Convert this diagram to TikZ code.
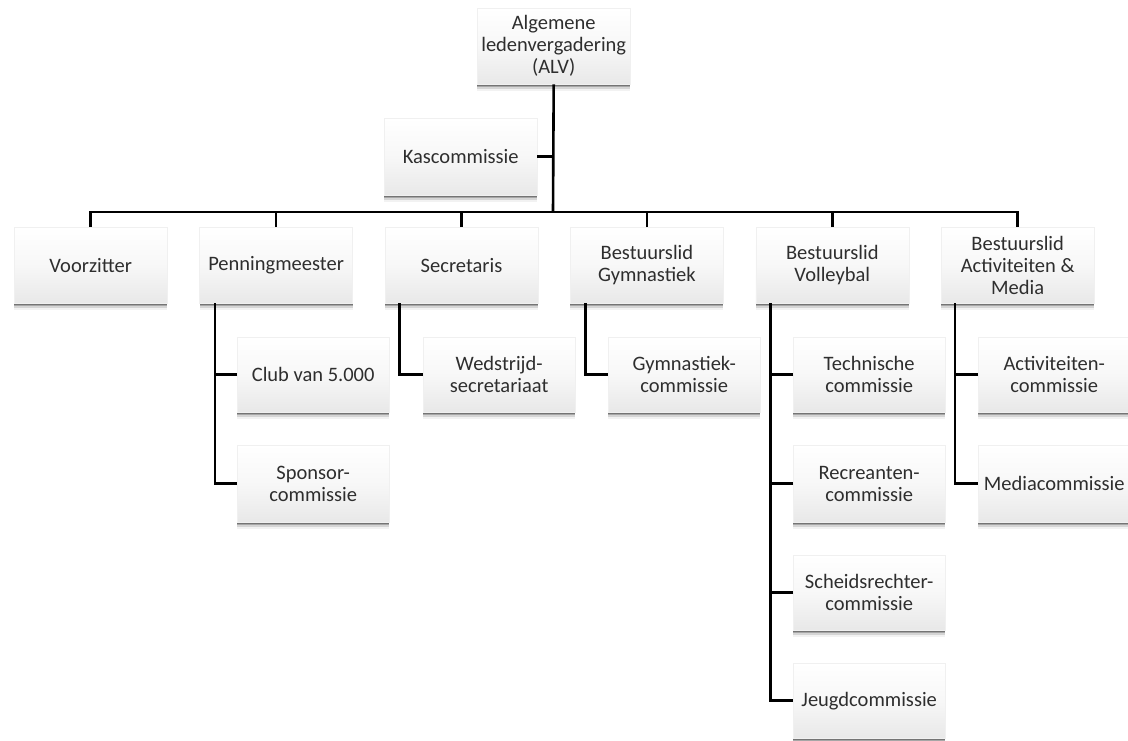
\documentclass[tikz,border=0pt]{standalone}
\usepackage{fontspec}
\setmainfont{Carlito}
\usetikzlibrary{shadows}
\tikzset{
  orgbox/.style={rectangle, anchor=north west, minimum width=153pt, minimum height=76pt,
    inner sep=0pt, align=center,
    top color=white, bottom color=black!9, middle color=white!97!black, draw=black!6, line width=0.4pt,
    font=\fontsize{20.5}{22}\selectfont, text=black!82,
    drop shadow={shadow xshift=0pt, shadow yshift=-1.5pt, opacity=0.3, fill=black},
    drop shadow={shadow xshift=0pt, shadow yshift=-3pt, opacity=0.22, fill=black},
    drop shadow={shadow xshift=0pt, shadow yshift=-5pt, opacity=0.12, fill=black},
    drop shadow={shadow xshift=0pt, shadow yshift=-7pt, opacity=0.05, fill=black}},
  subbox/.style={orgbox, minimum width=152pt, minimum height=75pt},
  conn/.style={draw=black, line width=2.6pt, line join=miter}
}
\begin{document}
\begin{tikzpicture}[x=1pt, y=-1pt]
\useasboundingbox (0,0) rectangle (1128,740);
% top
\node[orgbox] (alv) at (477,8) {Algemene\\ledenvergadering\\(ALV)};
\node[orgbox, minimum height=77pt] (kas) at (384,118) {Kascommissie};
% level 1
\node[orgbox] (b1) at (14,227) {Voorzitter};
\node[orgbox] (b2) at (199.4,227) {Penningmeester};
\node[orgbox] (b3) at (384.8,227) {Secretaris};
\node[orgbox] (b4) at (570.2,227) {Bestuurslid\\Gymnastiek};
\node[orgbox] (b5) at (755.6,227) {Bestuurslid\\Volleybal};
\node[orgbox] (b6) at (941,227) {Bestuurslid\\Activiteiten \&\\Media};
% children
\node[subbox] (c21) at (237,337) {Club van 5.000};
\node[subbox, minimum height=77pt] (c22) at (237,445) {Sponsor-\\commissie};
\node[subbox] (c31) at (423,337) {Wedstrijd-\\secretariaat};
\node[subbox] (c41) at (608,337) {Gymnastiek-\\commissie};
\node[subbox] (c51) at (793,337) {Technische\\commissie};
\node[subbox, minimum height=77pt] (c52) at (793,445) {Recreanten-\\commissie};
\node[subbox] (c53) at (793,555) {Scheidsrechter-\\commissie};
\node[subbox] (c54) at (793,663) {Jeugdcommissie};
\node[subbox] (c61) at (978,337) {Activiteiten-\\commissie};
\node[subbox, minimum height=77pt] (c62) at (978,445) {Mediacommissie};
% connectors
\coordinate (bus) at (553,212);
\draw[conn] (alv.south) -- (bus);
\draw[conn] (kas.east) -- (kas.east -| bus);
\draw[conn] (b1.north) |- (bus) -| (b6.north);
\draw[conn] (b2.north) -- (b2.north |- bus);
\draw[conn] (b3.north) -- (b3.north |- bus);
\draw[conn] (b4.north) -- (b4.north |- bus);
\draw[conn] (b5.north) -- (b5.north |- bus);
\coordinate (p2) at ([xshift=15.6pt]b2.south west);
\coordinate (p3) at ([xshift=14.6pt]b3.south west);
\coordinate (p4) at ([xshift=15pt]b4.south west);
\coordinate (p5) at ([xshift=14.6pt]b5.south west);
\coordinate (p6) at ([xshift=14pt]b6.south west);
\draw[conn] (p2) |- (c22.west);
\draw[conn] (c21.west) -- (c21.west -| p2);
\draw[conn] (p3) |- (c31.west);
\draw[conn] (p4) |- (c41.west);
\draw[conn] (p5) |- (c54.west);
\draw[conn] (c51.west) -- (c51.west -| p5);
\draw[conn] (c52.west) -- (c52.west -| p5);
\draw[conn] (c53.west) -- (c53.west -| p5);
\draw[conn] (p6) |- (c62.west);
\draw[conn] (c61.west) -- (c61.west -| p6);
\end{tikzpicture}
\end{document}
